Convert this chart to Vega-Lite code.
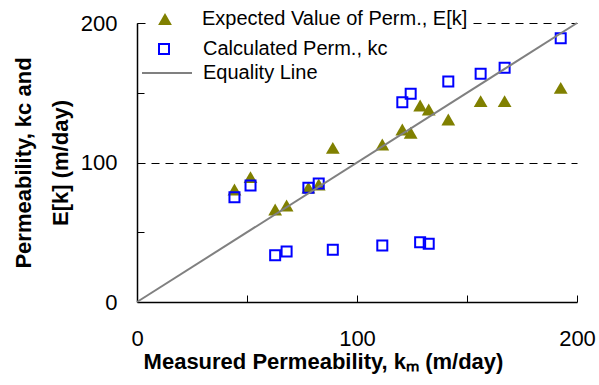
{
  "$schema": "https://vega.github.io/schema/vega-lite/v6.json",
  "width": 440,
  "height": 279,
  "autosize": "none",
  "padding": {"left": 137, "top": 23, "right": 22, "bottom": 83},
  "background": "white",
  "config": {
    "view": {"stroke": null},
    "font": "Liberation Sans",
    "axis": {
      "domainColor": "#000000",
      "domainWidth": 1.5,
      "tickColor": "#000000",
      "tickWidth": 1,
      "tickSize": -7,
      "labelFont": "Liberation Sans",
      "labelFontSize": 22,
      "labelColor": "#000000",
      "titleFont": "Liberation Sans",
      "titleFontSize": 22,
      "titleFontWeight": "bold",
      "titleColor": "#000000"
    },
    "legend": {
      "title": null,
      "orient": "none",
      "padding": 4,
      "labelFont": "Liberation Sans",
      "labelFontSize": 20,
      "labelColor": "#000000",
      "labelLimit": 0,
      "symbolStrokeWidth": 2,
      "symbolOpacity": 1
    }
  },
  "datasets": {
    "perm": [
      {"km": 44.3, "Ek": 80.6, "kc": 75.1},
      {"km": 51.6, "Ek": 89.5, "kc": 83.5},
      {"km": 62.8, "Ek": 66.3, "kc": 33.5},
      {"km": 68.0, "Ek": 69.2, "kc": 36.2},
      {"km": 77.9, "Ek": 82.0, "kc": 81.9},
      {"km": 82.6, "Ek": 84.2, "kc": 85.0},
      {"km": 89.0, "Ek": 110.5, "kc": 37.5},
      {"km": 111.5, "Ek": 112.9, "kc": 40.5},
      {"km": 120.6, "Ek": 123.7, "kc": 143.2},
      {"km": 124.4, "Ek": 121.3, "kc": 149.2},
      {"km": 128.7, "Ek": 140.9, "kc": 42.9},
      {"km": 132.6, "Ek": 138.0, "kc": 41.7},
      {"km": 141.5, "Ek": 130.8, "kc": 158.0},
      {"km": 156.2, "Ek": 144.0, "kc": 163.6},
      {"km": 167.1, "Ek": 144.0, "kc": 167.9},
      {"km": 192.6, "Ek": 153.5, "kc": 189.1}
    ],
    "equality": [
      {"km": 0, "k": 0},
      {"km": 200, "k": 200}
    ]
  },
  "layer": [
    {
      "data": {"name": "perm"},
      "mark": {"type": "point", "shape": "triangle-up", "filled": true, "size": 190, "opacity": 1},
      "encoding": {
        "x": {
          "field": "km", "type": "quantitative",
          "scale": {"domain": [0, 200], "nice": false},
          "axis": {
            "values": [0, 50, 100, 150, 200],
            "labelExpr": "datum.value % 100 === 0 ? datum.label : ''",
            "labelPadding": 33,
            "labelFlush": false,
            "grid": false,
            "title": "Measured Permeability, kₘ (m/day)",
            "titleX": 186,
            "titleY": 59,
            "titleBaseline": "middle"
          }
        },
        "y": {
          "field": "Ek", "type": "quantitative",
          "scale": {"domain": [0, 200], "nice": false},
          "axis": {
            "values": [0, 50, 100, 150, 200],
            "labelExpr": "datum.value % 100 === 0 ? datum.label : ''",
            "labelPadding": 27,
            "grid": true,
            "gridColor": "#000000",
            "gridWidth": 1,
            "gridDash": [8, 6],
            "gridOpacity": {"condition": {"test": "datum.value === 100 || datum.value === 200", "value": 1}, "value": 0},
            "title": ["Permeability, kc and", "E[k] (m/day)"],
            "titleLineHeight": 37,
            "titleX": -114,
            "titleBaseline": "middle"
          }
        },
        "color": {
          "datum": "Expected Value of Perm., E[k]",
          "type": "nominal",
          "scale": {"domain": ["Expected Value of Perm., E[k]"], "range": ["#808000"]},
          "legend": {
            "legendX": 14,
            "legendY": -18,
            "fillColor": "white",
            "symbolSize": 190,
            "symbolType": "triangle-up",
            "labelOffset": 27
          }
        }
      }
    },
    {
      "data": {"name": "perm"},
      "mark": {"type": "point", "shape": "square", "filled": false, "size": 100, "strokeWidth": 2, "opacity": 1},
      "encoding": {
        "x": {"field": "km", "type": "quantitative"},
        "y": {"field": "kc", "type": "quantitative"},
        "color": {
          "datum": "Calculated Perm., kc",
          "type": "nominal",
          "scale": {"domain": ["Calculated Perm., kc"], "range": ["#0000ff"]},
          "legend": {
            "legendX": 13,
            "legendY": 12,
            "symbolSize": 100,
            "symbolType": "square",
            "labelOffset": 29
          }
        }
      }
    },
    {
      "data": {"name": "equality"},
      "mark": {"type": "line", "strokeWidth": 2},
      "encoding": {
        "x": {"field": "km", "type": "quantitative"},
        "y": {"field": "k", "type": "quantitative"},
        "color": {
          "datum": "Equality Line",
          "type": "nominal",
          "scale": {"domain": ["Equality Line"], "range": ["#808080"]},
          "legend": {
            "legendX": 0,
            "legendY": 20,
            "symbolSize": 2500,
            "symbolType": "stroke",
            "labelOffset": 10
          }
        }
      }
    },
    {
      "mark": {"type": "rule", "color": "#808080", "strokeWidth": 1.5},
      "encoding": {"x": {"datum": 200}}
    }
  ],
  "resolve": {"scale": {"color": "independent"}}
}
